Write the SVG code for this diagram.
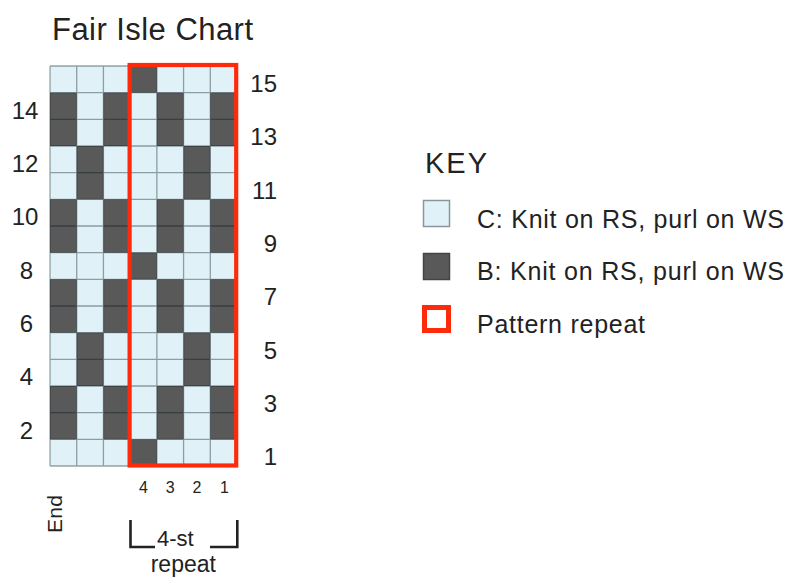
<svg xmlns="http://www.w3.org/2000/svg" width="786" height="581" viewBox="0 0 786 581">
<style>
text{font-family:"Liberation Sans",Arial,Helvetica,sans-serif;fill:#222}
.d{fill:#595959}
.num{font-size:24px}
.l{text-anchor:middle}
.r{text-anchor:end}
.col{font-size:16px;text-anchor:middle}
.key{font-size:25px}
</style>
<rect width="786" height="581" fill="#fff"/>
<g id="title"><text x="52" y="39.5" font-size="31" textLength="201">Fair Isle Chart</text></g>
<g id="chart">
<rect x="50" y="66" width="187" height="400" fill="#e0f2f8"/>
<rect class="d" x="130.14" y="66" width="26.72" height="26.67"/>
<rect class="d" x="50" y="92.67" width="26.72" height="53.33"/>
<rect class="d" x="103.43" y="92.67" width="26.72" height="53.33"/>
<rect class="d" x="156.86" y="92.67" width="26.72" height="53.33"/>
<rect class="d" x="210.29" y="92.67" width="26.71" height="53.33"/>
<rect class="d" x="76.71" y="146" width="26.72" height="53.33"/>
<rect class="d" x="183.57" y="146" width="26.72" height="53.33"/>
<rect class="d" x="50" y="199.33" width="26.72" height="53.34"/>
<rect class="d" x="103.43" y="199.33" width="26.72" height="53.34"/>
<rect class="d" x="156.86" y="199.33" width="26.72" height="53.34"/>
<rect class="d" x="210.29" y="199.33" width="26.71" height="53.34"/>
<rect class="d" x="130.14" y="252.67" width="26.72" height="26.66"/>
<rect class="d" x="50" y="279.33" width="26.72" height="53.34"/>
<rect class="d" x="103.43" y="279.33" width="26.72" height="53.34"/>
<rect class="d" x="156.86" y="279.33" width="26.72" height="53.34"/>
<rect class="d" x="210.29" y="279.33" width="26.71" height="53.34"/>
<rect class="d" x="76.71" y="332.67" width="26.72" height="53.33"/>
<rect class="d" x="183.57" y="332.67" width="26.72" height="53.33"/>
<rect class="d" x="50" y="386" width="26.72" height="53.33"/>
<rect class="d" x="103.43" y="386" width="26.72" height="53.33"/>
<rect class="d" x="156.86" y="386" width="26.72" height="53.33"/>
<rect class="d" x="210.29" y="386" width="26.71" height="53.33"/>
<rect class="d" x="130.14" y="439.33" width="26.72" height="26.67"/>
<path fill="none" stroke="#00141e" stroke-opacity="0.38" stroke-width="1.3" d="M50,66V466M76.71,66V466M103.43,66V466M130.14,66V466M156.86,66V466M183.57,66V466M210.29,66V466M237,66V466M50,66H237M50,92.67H237M50,119.33H237M50,146H237M50,172.67H237M50,199.33H237M50,226H237M50,252.67H237M50,279.33H237M50,306H237M50,332.67H237M50,359.33H237M50,386H237M50,412.67H237M50,439.33H237M50,466H237"/>
<rect x="129.6" y="65" width="106.6" height="400.5" fill="none" stroke="#ff2a0c" stroke-width="4.2"/>
</g>
<g id="row-labels">
<text class="num r" x="277" y="92">15</text>
<text class="num r" x="277" y="145.3">13</text>
<text class="num r" x="277" y="198.5">11</text>
<text class="num r" x="277" y="251.8">9</text>
<text class="num r" x="277" y="305.2">7</text>
<text class="num r" x="277" y="358.5">5</text>
<text class="num r" x="277" y="412">3</text>
<text class="num r" x="277" y="465.2">1</text>
<text class="num l" x="25" y="118.5">14</text>
<text class="num l" x="25" y="171.8">12</text>
<text class="num l" x="25" y="225.2">10</text>
<text class="num l" x="26.5" y="278.5">8</text>
<text class="num l" x="26.5" y="331.8">6</text>
<text class="num l" x="26.5" y="385.2">4</text>
<text class="num l" x="26.5" y="438.5">2</text>
</g>
<g id="col-labels">
<text class="col" x="143.5" y="492.5">4</text>
<text class="col" x="170.2" y="492.5">3</text>
<text class="col" x="197" y="492.5">2</text>
<text class="col" x="224.5" y="492.5">1</text>
</g>
<g id="end-label"><text transform="translate(61.5,533) rotate(-90)" font-size="21" textLength="38">End</text></g>
<g id="repeat-bracket">
<path fill="none" stroke="#222" stroke-width="2.6" d="M130.5,520V547H155M210,547H237.3V520"/>
<text x="157" y="546" font-size="22">4-st</text>
<text x="183.3" y="572" font-size="23" text-anchor="middle">repeat</text>
</g>
<g id="key">
<text x="425" y="173" font-size="29" textLength="62">KEY</text>
<rect x="423.5" y="200.5" width="26" height="26" fill="#e0f2f8" stroke="#8a969b" stroke-width="1.5"/>
<text class="key" x="477" y="227.5" textLength="307">C: Knit on RS, purl on WS</text>
<rect x="423.5" y="253.5" width="26" height="26" fill="#595959" stroke="#454545" stroke-width="1.5"/>
<text class="key" x="477" y="280" textLength="307">B: Knit on RS, purl on WS</text>
<rect x="424.5" y="307.5" width="24" height="23" fill="#fff" stroke="#ff2a0c" stroke-width="5"/>
<text class="key" x="477" y="332.5" textLength="168">Pattern repeat</text>
</g>
</svg>
